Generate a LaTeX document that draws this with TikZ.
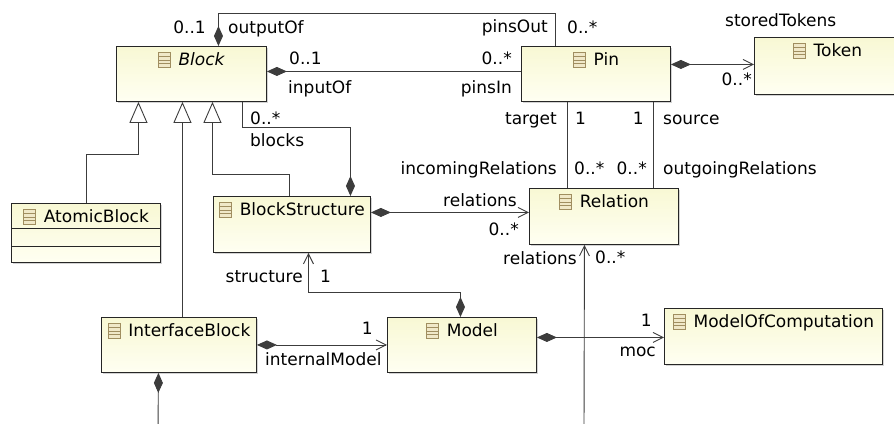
\documentclass[tikz,border=0pt]{standalone}
\usepackage{fontspec}
\setmainfont{DejaVu Sans}
\usetikzlibrary{arrows.meta,shadows}
\definecolor{clstop}{HTML}{F8F8D4}
\definecolor{clsbot}{HTML}{FFFFF2}
\definecolor{iconline}{HTML}{A08E60}
\definecolor{iconfill}{HTML}{F0E8C8}
\definecolor{connline}{HTML}{3C3C3C}
\newcommand{\clsicon}{\begin{tikzpicture}[x=1pt,y=1pt,baseline=2pt]
\draw[iconline,fill=iconfill,line width=0.8pt] (0,0) rectangle (12,15);
\foreach \k in {1,2,3} \draw[iconline,line width=0.8pt] (0,3.75*\k) -- (12,3.75*\k);
\end{tikzpicture}\hspace{8pt}}
\begin{document}
\begin{tikzpicture}[x=1pt,y=-1pt,
  every node/.style={font=\fontsize{17}{20}\selectfont},
  cls/.style 2 args={draw=black!85, line width=0.9pt, top color=clstop, bottom color=clsbot,
    drop shadow={shadow xshift=1.5pt, shadow yshift=-1.5pt, opacity=0.35},
    anchor=north west, inner sep=3pt, minimum width=#1pt, text height=16pt, text depth=#2pt},
  lbl/.style={inner sep=0pt, text height=12pt, text depth=3pt},
  conn/.style={draw=connline, line width=0.9pt},
  comp/.style={conn, {Diamond[length=20pt,width=9pt]}-},
  compnav/.style={conn, {Diamond[length=20pt,width=9pt]}-{Straight Barb[length=10pt,width=10pt]}},
  nav/.style={conn, -{Straight Barb[length=10pt,width=10pt]}},
  inh/.style={conn, -{Triangle[length=21pt,width=18pt,fill=white]}}]
\useasboundingbox (0,0) rectangle (894,423);
% classes
\node[cls={150}{33}] (block) at (116,46) {\clsicon\textit{Block}};
\node[cls={149}{33}] (pin) at (521,46) {\clsicon Pin};
\node[cls={146}{35}] (token) at (754,37) {\clsicon Token};
\node[cls={149}{34}] (relation) at (529,188) {\clsicon Relation};
\node[cls={157}{34}] (bstruct) at (213,196) {\clsicon BlockStructure};
\node[cls={149}{37}] (atomic) at (11,203) {\clsicon AtomicBlock};
\node[cls={155}{33}] (iface) at (101,317) {\clsicon InterfaceBlock};
\node[cls={149}{33}] (model) at (387,317) {\clsicon Model};
\node[cls={218}{34}] (moc) at (664,308) {\clsicon ModelOfComputation};
\draw[draw=black!85, line width=0.9pt] ([yshift=-25pt]atomic.north west) -- ([yshift=-25pt]atomic.north east);
\draw[draw=black!85, line width=0.9pt] ([yshift=-43pt]atomic.north west) -- ([yshift=-43pt]atomic.north east);
% generalisations
\draw[inh] (atomic.north) -- ++(0,-49) -| ([xshift=-53pt]block.south);
\draw[inh] ([xshift=3.5pt]iface.north) -- ([xshift=-9pt]block.south);
\draw[inh] ([xshift=-2.5pt]bstruct.north) -- ++(0,-22) -| ([xshift=21pt]block.south);
% associations
\draw[comp] ([xshift=27pt]block.north) -- ++(0,-33) -| ([xshift=-40.5pt]pin.north);
\draw[comp] ([yshift=2.5pt]block.east) -- ([yshift=2.5pt]pin.west);
\draw[comp] ([xshift=58.5pt]bstruct.north) -- ++(0,-69) -| ([xshift=51pt]block.south);
\draw[compnav] ([yshift=9.5pt]pin.east) -- ([yshift=1.5pt]token.west);
\draw[conn] ([xshift=-28.5pt]pin.south) -- ([xshift=-36.5pt]relation.north);
\draw[conn] ([xshift=57.5pt]pin.south) -- ([xshift=49.5pt]relation.north);
\draw[compnav] ([yshift=12pt]bstruct.east) -- ([yshift=4pt]relation.west);
\draw[compnav] ([xshift=-1.5pt]model.north) -- ++(0,-25) -| ([xshift=16.5pt]bstruct.south);
\draw[compnav] (iface.east) -- (model.west);
\draw[compnav] ([yshift=7.5pt]model.east) -- ([yshift=-1pt]moc.west);
\coordinate (relfoot) at (584,430);
\draw[nav] (relfoot) -- ([xshift=-19.5pt]relation.south);
\coordinate (ifacefoot) at (158,430);
\draw[comp] ([xshift=-20.5pt]iface.south) -- (ifacefoot);
% role names and multiplicities
\node[lbl, anchor=east] (outMult) at (206,29) {0..1};
\node[lbl, anchor=west] (outRole) at (228,29) {outputOf};
\node[lbl, anchor=east] (pinsOutRole) at (548,28) {pinsOut};
\node[lbl, anchor=west] (pinsOutMult) at (567,29) {0..*};
\node[lbl, anchor=west] (inMult) at (289,60) {0..1};
\node[lbl, anchor=west] (inRole) at (288,89) {inputOf};
\node[lbl, anchor=east] (pinsInMult) at (512,60) {0..*};
\node[lbl, anchor=east] (pinsInRole) at (512,89) {pinsIn};
\node[lbl, anchor=west] (blocksMult) at (250,120) {0..*};
\node[lbl, anchor=west] (blocksRole) at (250,142) {blocks};
\node[lbl, anchor=east] (targetRole) at (557,120) {target};
\node[lbl, anchor=west] (targetMult) at (575,120) {1};
\node[lbl, anchor=east] (sourceMult) at (644,120) {1};
\node[lbl, anchor=west] (sourceRole) at (663,120) {source};
\node[lbl, anchor=east] (incRole) at (557,170) {incomingRelations};
\node[lbl, anchor=west] (incMult) at (574,170) {0..*};
\node[lbl, anchor=east] (outgMult) at (647,170) {0..*};
\node[lbl, anchor=west] (outgRole) at (663,170) {outgoingRelations};
\node[lbl, anchor=west] (tokRole) at (725,22) {storedTokens};
\node[lbl, anchor=east] (tokMult) at (752,81) {0..*};
\node[lbl, anchor=east] (relRole) at (517,202) {relations};
\node[lbl, anchor=east] (relMult) at (519,231) {0..*};
\node[lbl, anchor=east] (relsRole) at (577,260) {relations};
\node[lbl, anchor=west] (relsMult) at (595,259) {0..*};
\node[lbl, anchor=east] (structRole) at (303,278) {structure};
\node[lbl, anchor=west] (structMult) at (320,278) {1};
\node[lbl, anchor=east] (intMult) at (373,330) {1};
\node[lbl, anchor=west] (intRole) at (265,361) {internalModel};
\node[lbl, anchor=east] (mocMult) at (652,322) {1};
\node[lbl, anchor=east] (mocRole) at (656,352) {moc};
\end{tikzpicture}
\end{document}
